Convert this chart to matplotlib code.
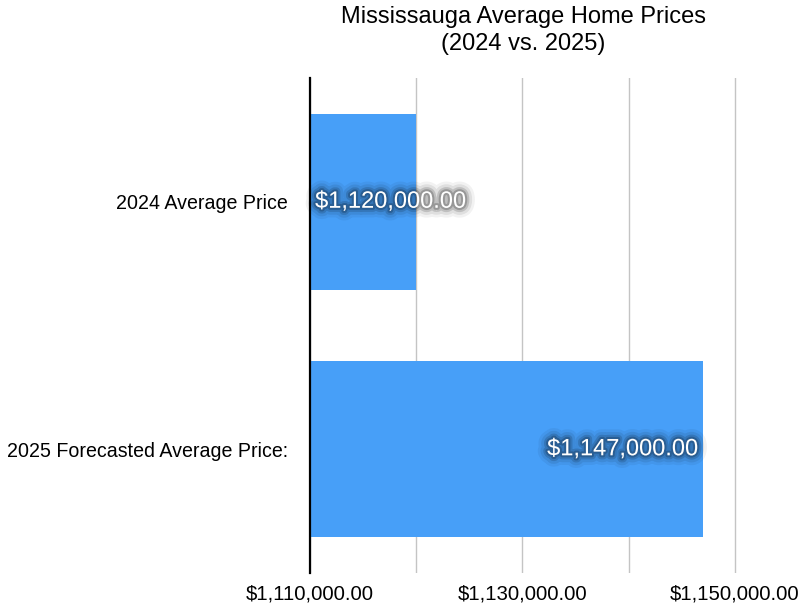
import matplotlib
matplotlib.use("Agg")
import matplotlib.pyplot as plt
import matplotlib.patheffects as pe
from matplotlib.ticker import FuncFormatter, FixedLocator

categories = ["2024 Average Price", "2025 Forecasted Average Price:"]
prices = [1120000, 1147000]
x_min, x_max = 1110000, 1150000
major_ticks = [1110000, 1130000, 1150000]
grid_ticks = [1120000, 1140000]

plt.rcParams["font.family"] = ["Liberation Sans", "DejaVu Sans"]

fig = plt.figure(figsize=(8, 6.04), dpi=100)
pad = 200  # keep last gridline inside the axes
ax = fig.add_axes([0.3875, 0.0513, 0.53125 * (x_max - x_min + pad) / (x_max - x_min), 0.8196])

y = list(range(len(categories)))
ax.barh(y, prices, left=0, height=0.71, color="#479ff8", zorder=2)
ax.set_xlim(x_min, x_max + pad)
ax.set_ylim(len(categories) - 0.5, -0.5)

money = FuncFormatter(lambda v, p: f"${v:,.2f}")
ax.xaxis.set_major_locator(FixedLocator(major_ticks))
ax.xaxis.set_minor_locator(FixedLocator(grid_ticks))
ax.xaxis.set_major_formatter(money)
ax.grid(True, axis="x", which="both", color="#c4c4c4", linewidth=1, zorder=0)
ax.tick_params(axis="x", which="both", length=0, pad=8, labelsize=14.7)
ax.tick_params(axis="y", length=0, pad=16, labelsize=14.1)
ax.set_yticks(y)
ax.set_yticklabels(categories)

for s in ["top", "right", "bottom"]:
    ax.spines[s].set_visible(False)
ax.spines["left"].set_linewidth(1.6)
ax.spines["left"].set_color("black")
ax.spines["left"].set_zorder(3)

glow = [
    pe.Stroke(linewidth=14, foreground="black", alpha=0.05),
    pe.Stroke(linewidth=10, foreground="black", alpha=0.08),
    pe.Stroke(linewidth=6, foreground="black", alpha=0.14),
    pe.Stroke(linewidth=3, foreground="black", alpha=0.2),
    pe.Normal(),
]
span = x_max - x_min
for yi, v in zip(y, prices):
    if v - x_min < 0.35 * span:
        tx, ha = x_min + 0.012 * span, "left"
    else:
        tx, ha = v - 0.012 * span, "right"
    ax.text(tx, yi, f"${v:,.2f}", ha=ha, va="center", color="white",
            fontsize=17, zorder=4, path_effects=glow)

ax.set_title("Mississauga Average Home Prices\n(2024 vs. 2025)",
             fontsize=17, pad=20, linespacing=1.3)

fig.savefig("out.png", dpi=100)
